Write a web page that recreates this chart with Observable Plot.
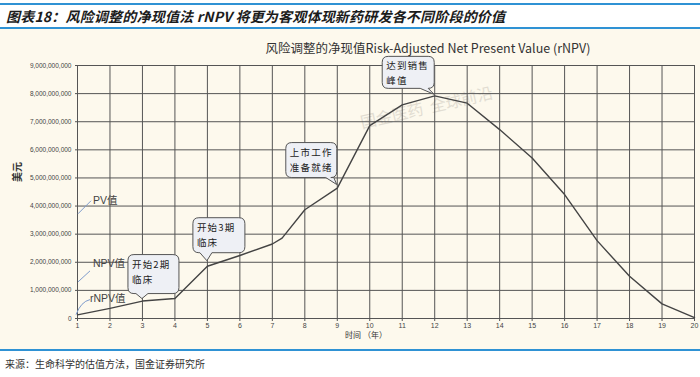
<!DOCTYPE html>
<html><head><meta charset="utf-8">
<script src="https://cdn.jsdelivr.net/npm/d3@7"></script>
<script src="https://cdn.jsdelivr.net/npm/@observablehq/plot@0.6"></script>
<style>
html,body{margin:0;padding:0;background:#fff;}
#wrap{position:relative;width:700px;height:377px;overflow:hidden;font-family:"Noto Sans CJK SC","Liberation Sans",sans-serif;}
#head{position:absolute;left:0;top:3px;width:700px;height:22px;border-top:2px solid #2f92d4;border-bottom:2px solid #2f92d4;}
#head span{position:absolute;left:6px;top:1px;font-size:14px;font-weight:bold;font-style:italic;color:#1c1c1c;letter-spacing:0.2px;}
#chart{position:absolute;left:0;top:29px;}
#foot{position:absolute;left:0;top:349px;width:700px;border-top:2px solid #2f92d4;}
#foot span{position:absolute;left:5px;top:5px;font-size:10px;color:#333;white-space:nowrap;}
</style></head>
<body><div id="wrap">
<div id="head"><span>图表18：风险调整的净现值法 rNPV 将更为客观体现新药研发各不同阶段的价值</span></div>
<div id="chart"></div>
<div id="foot"><span>来源：生命科学的估值方法，国金证券研究所</span></div>
</div>
<script>
const chartTitle = "风险调整的净现值Risk-Adjusted Net Present Value (rNPV)";
const xLabel = "时间 （年）";
const yLabel = "美元";
const years = [1,2,3,4,5,6,7,7.3,8,9,10,11,12,13,14,15,16,17,18,19,20];
const values = [0.13,0.36,0.62,0.71,1.86,2.24,2.65,2.86,3.87,4.64,6.86,7.6,7.92,7.66,6.72,5.71,4.41,2.77,1.5,0.52,0.03].map(v => v * 1e9);
const xTicks = d3.range(1, 21);
const yTicks = d3.range(0, 10).map(v => v * 1e9);
const calloutYears = [3, 5, 9, 12];
const calloutLines = [["开始2期","临床"],["开始3期","临床"],["上市工作","准备就绪"],["达到销售","峰值"]];
const sideLabels = ["PV值","NPV值","rNPV值"];
const sideLabelValues = [4.17e9, 1.96e9, 0.69e9];
const watermark = "国金医药  全球前沿";

const series = years.map((x, i) => ({x, y: values[i]}));

// bubble layout (pixel offsets from anchor point)
const bubbleLayout = [
  {L:-14, R:37, T:-46, B:-7, t1:-6, t2:6, tipDy:-2},
  {L:-14, R:38, T:-48, B:-13, t1:-7, t2:5, tipDy:-5},
  {L:-51, R:0, T:-45, B:-10, t1:-11, t2:-3, tipDy:-3},
  {L:-52, R:0, T:-39, B:-7, t1:-14, t2:-6, tipDy:-1}
];

function annotations(...args) {
  const scales = args.find(a => a && typeof a.x === "function" && typeof a.y === "function");
  const g = d3.create("svg:g").attr("text-anchor", "start").attr("font-family", "'Noto Sans CJK SC','Liberation Sans',sans-serif");
  const leaders = [
    {a:[-15,13], b:[-2,0], curve:false},
    {a:[-15,19], b:[-3,8], curve:false},
    {a:[-14,16], b:[0,1], curve:true}
  ];
  const x0 = scales.x(1);
  sideLabels.forEach((lab, i) => {
    const py = scales.y(sideLabelValues[i]);
    const lx = x0 + (i === 2 ? 13 : 16);
    const L = leaders[i];
    const ax = lx + L.a[0], ay = py + L.a[1], bx = lx + L.b[0], by = py + L.b[1];
    g.append("path")
      .attr("d", L.curve ? `M${ax},${ay} Q${ax+5},${by+2} ${bx},${by}` : `M${ax},${ay} L${bx},${by}`)
      .attr("fill", "none").attr("stroke", "#7f9ccc").attr("stroke-width", 1);
    g.append("text").attr("x", lx).attr("y", py).attr("dy", "0.35em").attr("text-anchor", "start")
      .attr("font-family", "'Liberation Sans','Noto Sans CJK SC',sans-serif")
      .attr("font-size", 10.5).attr("fill", "#444").text(lab);
  });
  calloutYears.forEach((yr, i) => {
    const idx = years.indexOf(yr);
    const px = scales.x(yr), py = scales.y(values[idx]);
    const b = bubbleLayout[i];
    const L = px + b.L, R = px + b.R, T = py + b.T, B = py + b.B, r = 6;
    const tx1 = px + b.t1, tx2 = px + b.t2, tipX = px, tipY = py + b.tipDy;
    const d = `M${L+r},${T} H${R-r} Q${R},${T} ${R},${T+r} V${B-r} Q${R},${B} ${R-r},${B}` +
      ` H${tx2} L${tipX},${tipY} L${tx1},${B} H${L+r} Q${L},${B} ${L},${B-r} V${T+r} Q${L},${T} ${L+r},${T} Z`;
    g.append("path").attr("d", d).attr("fill", "#eef0f5").attr("stroke", "#555").attr("stroke-width", 1);
    calloutLines[i].forEach((t, j) => {
      g.append("text").attr("x", L + 4).attr("y", T + 13 + j * 15).attr("text-anchor", "start")
        .attr("font-size", 9.5).attr("fill", "#222").attr("letter-spacing", 1.2).text(t);
    });
  });
  return g.node();
}

const plot = Plot.plot({
  width: 700,
  height: 320,
  marginTop: 36,
  marginBottom: 31,
  marginLeft: 77,
  marginRight: 6,
  style: {background: "#fdf9ed", fontFamily: "'Liberation Sans', Arial, sans-serif", overflow: "visible"},
  x: {domain: [1, 20], ticks: xTicks, tickSize: 3, tickPadding: 3, label: null},
  y: {domain: [0, 9e9], ticks: yTicks, tickSize: 2, tickPadding: 4, tickFormat: d3.format(","), label: null},
  marks: [
    Plot.text([watermark], {frameAnchor: "top-left", dx: 282, dy: 52, rotate: -13, fontSize: 16, fill: "#e2ddd2", fontFamily: "'Noto Sans CJK SC'"}),
    Plot.gridX(xTicks, {stroke: "#555", strokeOpacity: 1, strokeWidth: 1}),
    Plot.gridY(yTicks, {stroke: "#555", strokeOpacity: 1, strokeWidth: 1}),
    Plot.axisX({ticks: xTicks, tickSize: 3, tickPadding: 2, fontSize: 7, fill: "#444", stroke: "#555"}),
    Plot.axisY({ticks: yTicks, tickSize: 2, tickPadding: 4, fontSize: 6.5, fill: "#444", stroke: "#555", tickFormat: d3.format(",")}),
    Plot.line(series, {x: "x", y: "y", stroke: "#444", strokeWidth: 1.4}),
    Plot.text([chartTitle], {frameAnchor: "top", dx: 42, dy: -21, fontSize: 12.5, fill: "#333", fontFamily: "'Noto Sans CJK SC','Liberation Sans'"}),
    Plot.text([xLabel], {frameAnchor: "bottom", dx: -20, dy: 19, fontSize: 8, fill: "#333", fontFamily: "'Noto Sans CJK SC'"}),
    Plot.text([yLabel], {frameAnchor: "left", dx: -60, dy: -10, rotate: -90, fontSize: 10, fontWeight: "bold", fill: "#333", fontFamily: "'Noto Sans CJK SC'"}),
    annotations
  ]
});
document.getElementById("chart").appendChild(plot);
</script>
</body></html>
